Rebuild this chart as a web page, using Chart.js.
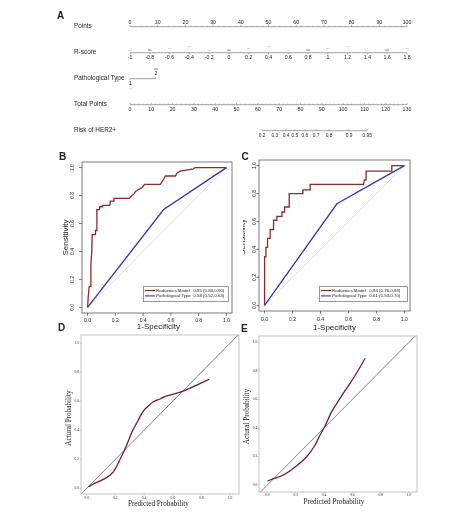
<!DOCTYPE html>
<html>
<head>
<meta charset="utf-8">
<script src="https://cdn.jsdelivr.net/npm/chart.js@4.4.1/dist/chart.umd.min.js"></script>
<style>
  html, body { margin: 0; padding: 0; background: #fff; }
  #wrap { position: relative; width: 474px; height: 515px; overflow: hidden; background: #fff; }
  canvas { position: absolute; }
</style>
</head>
<body>
<div id="wrap">
  <canvas id="panelA" width="474" height="145" style="left:0;top:0;width:474px;height:145px"></canvas>
  <canvas id="panelB" width="182" height="190" style="left:55px;top:145px;width:182px;height:190px"></canvas>
  <canvas id="panelC" width="195" height="190" style="left:239px;top:145px;width:195px;height:190px"></canvas>
  <canvas id="panelD" width="185" height="197" style="left:55px;top:318px;width:185px;height:197px"></canvas>
  <canvas id="panelE" width="194" height="197" style="left:240px;top:318px;width:194px;height:197px"></canvas>
</div>
<script>
// ---- A: nomogram ----
const nomoRows = ['Points', 'R-score', 'Pathological Type', 'Total Points', 'Risk of HER2+'];
const pointsTicks = [0, 10, 20, 30, 40, 50, 60, 70, 80, 90, 100];
const rScoreTicks = [-1, -0.8, -0.6, -0.4, -0.2, 0, 0.2, 0.4, 0.6, 0.8, 1, 1.2, 1.4, 1.6, 1.8];
const pathTypeLevels = ['1', '2'];
const pathTypePoints = [0, 9.2];
const totalPointsTicks = [0, 10, 20, 30, 40, 50, 60, 70, 80, 90, 100, 110, 120, 130];
const riskLabels = ['0.2', '0.3', '0.4', '0.5', '0.6', '0.7', '0.8', '0.9', '0.95'];
const riskTotalPoints = [62, 68, 73.2, 77.4, 82.1, 87.3, 93.4, 102.8, 111.3];

// ---- B: ROC, training set ----
const rocBRadiomicsFpr = [0, 0.005, 0.010, 0.012, 0.024, 0.024, 0.031, 0.033, 0.038, 0.055, 0.057, 0.064, 0.067, 0.083, 0.086, 0.105, 0.107, 0.160, 0.164, 0.186, 0.190, 0.300, 0.310, 0.320, 0.333, 0.345, 0.360, 0.380, 0.395, 0.410, 0.425, 0.524, 0.530, 0.550, 0.560, 0.633, 0.643, 0.667, 0.762, 0.774, 1];
const rocBRadiomicsTpr = [0, 0.08, 0.08, 0.15, 0.15, 0.30, 0.41, 0.52, 0.52, 0.52, 0.55, 0.55, 0.70, 0.70, 0.72, 0.72, 0.73, 0.73, 0.76, 0.76, 0.78, 0.78, 0.79, 0.80, 0.81, 0.83, 0.84, 0.85, 0.86, 0.88, 0.88, 0.88, 0.89, 0.92, 0.94, 0.94, 0.96, 0.975, 0.99, 1, 1];
const rocBPathFpr = [0, 0.548, 1];
const rocBPathTpr = [0, 0.70, 1];
const rocBAuc = ['0.85 (0.80,0.90)', '0.58 (0.52,0.63)'];

// ---- C: ROC, validation set ----
const rocCRadiomicsFpr = [0, 0, 0.0095, 0.0095, 0.021, 0.021, 0.040, 0.040, 0.064, 0.064, 0.088, 0.088, 0.124, 0.124, 0.143, 0.143, 0.176, 0.176, 0.274, 0.274, 0.326, 0.326, 0.707, 0.714, 0.726, 0.726, 0.910, 0.910, 1];
const rocCRadiomicsTpr = [0, 0.348, 0.348, 0.415, 0.415, 0.479, 0.479, 0.543, 0.543, 0.609, 0.609, 0.637, 0.637, 0.668, 0.668, 0.704, 0.704, 0.799, 0.799, 0.827, 0.827, 0.865, 0.865, 0.898, 0.898, 0.960, 0.960, 1, 1];
const rocCPathFpr = [0, 0.517, 1];
const rocCPathTpr = [0, 0.727, 1];
const rocCAuc = ['0.84 (0.76,0.93)', '0.61 (0.53,0.70)'];
const rocLegendNames = ['Radiomics Model', 'Pathological Type'];

// ---- D / E: calibration ----
const calDPred = [0.011, 0.046, 0.116, 0.186, 0.244, 0.279, 0.316, 0.360, 0.395, 0.430, 0.465, 0.512, 0.558, 0.663, 0.768, 0.856];
const calDObs  = [0.011, 0.030, 0.062, 0.114, 0.223, 0.299, 0.388, 0.471, 0.533, 0.568, 0.597, 0.616, 0.637, 0.666, 0.712, 0.752];
const calEPred = [0.0, 0.042, 0.113, 0.207, 0.278, 0.337, 0.372, 0.407, 0.454, 0.513, 0.560, 0.607, 0.654, 0.690];
const calEObs  = [0.028, 0.044, 0.070, 0.135, 0.198, 0.280, 0.350, 0.413, 0.514, 0.607, 0.678, 0.748, 0.825, 0.888];

const unitTicks = [0, 0.2, 0.4, 0.6, 0.8, 1];

const SANS = '"Liberation Sans", Arial, sans-serif';
const SERIF = '"Liberation Serif", "Times New Roman", serif';
const pts = (xs, ys) => xs.map((x, i) => ({ x, y: ys[i] }));

// nomogram: rows are lines on a category y axis, ticks drawn with each row's own x scale
const nomoLine = (xs, row, axis) => ({
  data: xs.map(x => ({ x, y: nomoRows[row] })),
  xAxisID: axis, showLine: true, borderColor: '#7a7a7a', borderWidth: 0.7, pointRadius: 0
});

const nomogramPlugin = {
  id: 'nomogram',
  afterDatasetsDraw(chart) {
    const { ctx, scales } = chart;
    const sP = scales.x, sR = scales.xR, sT = scales.xTot;
    const rowY = i => scales.y.getPixelForValue(i);
    const vtick = (px, y0, len) => { ctx.moveTo(px, y0); ctx.lineTo(px, y0 + len); };
    const dash = (px, y0, dark) => {
      ctx.strokeStyle = dark ? '#555' : '#c4c4c4';
      ctx.lineWidth = dark ? 0.8 : 0.6;
      ctx.beginPath(); ctx.moveTo(px - 1.8, y0); ctx.lineTo(px + 1.8, y0); ctx.stroke();
    };
    ctx.save();
    ctx.fillStyle = '#222';
    ctx.textBaseline = 'middle';
    ctx.textAlign = 'left';
    ctx.font = 'bold 10px ' + SANS;
    ctx.fillText('A', 57, 16);
    ctx.font = '6.4px ' + SANS;
    nomoRows.forEach((n, i) => ctx.fillText(n, 74, rowY(i)));

    ctx.textAlign = 'center';
    ctx.strokeStyle = '#7a7a7a';
    ctx.lineWidth = 0.6;

    // Points
    let y = rowY(0);
    ctx.beginPath();
    for (let v = 0; v <= 100; v += 2) vtick(sP.getPixelForValue(v), y, v % 10 ? -1 : -2);
    ctx.stroke();
    ctx.font = '5.2px ' + SANS;
    pointsTicks.forEach(v => ctx.fillText(String(v), sP.getPixelForValue(v), y - 4.3));

    // R-score
    y = rowY(1);
    ctx.beginPath();
    rScoreTicks.forEach(v => vtick(sR.getPixelForValue(v), y, 1.5));
    ctx.stroke();
    rScoreTicks.forEach(v => ctx.fillText(String(v), sR.getPixelForValue(v), y + 4.6));
    const lift = [2.3, 2.6, 4.3, 6];
    rScoreTicks.forEach((v, i) => dash(sR.getPixelForValue(v), y - lift[i % 4], i % 4 === 1));

    // Pathological Type
    y = rowY(2);
    ctx.strokeStyle = '#7a7a7a'; ctx.lineWidth = 0.6;
    ctx.beginPath();
    vtick(sP.getPixelForValue(pathTypePoints[0]), y, 1.5);
    vtick(sP.getPixelForValue(pathTypePoints[1]), y, -1.5);
    ctx.stroke();
    ctx.fillText(pathTypeLevels[0], sP.getPixelForValue(pathTypePoints[0]) + 0.5, y + 4.6);
    ctx.fillText(pathTypeLevels[1], sP.getPixelForValue(pathTypePoints[1]) + 0.5, y - 5.6);
    dash(sP.getPixelForValue(pathTypePoints[0]) + 0.5, y + 10, false);
    dash(sP.getPixelForValue(pathTypePoints[1]) + 0.5, y - 9.6, true);

    // Total Points
    y = rowY(3);
    ctx.strokeStyle = '#7a7a7a'; ctx.lineWidth = 0.6;
    ctx.beginPath();
    for (let v = 0; v <= 130; v += 2) vtick(sT.getPixelForValue(v), y, v % 10 ? -1 : -1.8);
    ctx.stroke();
    ctx.font = '5.3px ' + SANS;
    totalPointsTicks.forEach(v => ctx.fillText(String(v), sT.getPixelForValue(v), y + 4.8));

    // Risk
    y = rowY(4);
    ctx.beginPath();
    riskTotalPoints.forEach(v => vtick(sT.getPixelForValue(v), y, -1.5));
    ctx.stroke();
    ctx.font = '4.8px ' + SANS;
    riskTotalPoints.forEach((v, i) => ctx.fillText(riskLabels[i], sT.getPixelForValue(v), y + 5));
    ctx.restore();
  }
};

new Chart(document.getElementById('panelA'), {
  type: 'scatter',
  data: {
    datasets: [
      nomoLine([pointsTicks[0], pointsTicks[pointsTicks.length - 1]], 0, 'x'),
      nomoLine([rScoreTicks[0], rScoreTicks[rScoreTicks.length - 1]], 1, 'xR'),
      nomoLine(pathTypePoints, 2, 'x'),
      nomoLine([totalPointsTicks[0], totalPointsTicks[totalPointsTicks.length - 1]], 3, 'xTot'),
      nomoLine([riskTotalPoints[0], riskTotalPoints[riskTotalPoints.length - 1]], 4, 'xTot')
    ]
  },
  options: {
    responsive: false, animation: false, events: [],
    layout: { padding: { left: 130, right: 67, top: 13.7, bottom: 1.3 } },
    scales: {
      x: { type: 'linear', display: false, min: 0, max: 100 },
      xR: { type: 'linear', axis: 'x', display: false, min: -1, max: 1.8 },
      xTot: { type: 'linear', axis: 'x', display: false, min: 0, max: 130 },
      y: { type: 'category', labels: nomoRows, offset: true, display: false }
    },
    plugins: { legend: { display: false }, tooltip: { enabled: false } }
  },
  plugins: [nomogramPlugin]
});

// R-like box, ticks, labels, titles (and optional legend) for panels B-E
function rStyleAxes(c) {
  return {
    id: 'rStyleAxes',
    afterDraw(chart) {
      const { ctx, chartArea: a } = chart;
      const sx = chart.scales.x, sy = chart.scales.y;
      ctx.save();
      ctx.strokeStyle = c.frame; ctx.lineWidth = c.frameWidth;
      ctx.strokeRect(a.left, a.top, a.right - a.left, a.bottom - a.top);
      ctx.beginPath();
      unitTicks.forEach(v => {
        const px = sx.getPixelForValue(v), py = sy.getPixelForValue(v);
        ctx.moveTo(px, a.bottom); ctx.lineTo(px, a.bottom + c.tick);
        ctx.moveTo(a.left, py); ctx.lineTo(a.left - c.tick, py);
      });
      ctx.stroke();

      ctx.fillStyle = '#222';
      ctx.textAlign = 'center'; ctx.textBaseline = 'middle';
      ctx.font = c.tickFont;
      unitTicks.forEach(v => {
        const lab = v.toFixed(1);
        ctx.fillText(lab, sx.getPixelForValue(v), a.bottom + c.xLabGap);
        ctx.save();
        ctx.translate(a.left - c.yLabGap, sy.getPixelForValue(v));
        if (c.rotY) ctx.rotate(-Math.PI / 2);
        ctx.fillText(lab, 0, 0);
        ctx.restore();
      });

      ctx.font = c.titleFont;
      ctx.fillText(c.xTitle, sx.getPixelForValue(c.titleAt[0]), a.bottom + c.xTitleGap);
      ctx.save();
      if (c.clipLeft != null) { ctx.beginPath(); ctx.rect(c.clipLeft, 0, chart.width, chart.height); ctx.clip(); }
      ctx.translate(a.left - c.yTitleGap, sy.getPixelForValue(c.titleAt[1]));
      ctx.rotate(-Math.PI / 2);
      ctx.fillText(c.yTitle, 0, 0);
      ctx.restore();

      ctx.textAlign = 'left';
      ctx.font = 'bold 10px ' + SANS;
      ctx.fillText(c.letter, c.letterPos[0], c.letterPos[1]);

      if (c.legend) {
        const L = c.legend;
        const x0 = a.right - L.right - L.width, y0 = a.bottom - L.bottom - L.height;
        ctx.strokeStyle = '#555'; ctx.lineWidth = 0.6;
        ctx.strokeRect(x0, y0, L.width, L.height);
        ctx.font = '4.4px ' + SANS;
        rocLegendNames.forEach((n, i) => {
          const yy = y0 + 3.8 + i * 5.4;
          ctx.strokeStyle = L.colors[i]; ctx.lineWidth = 1.1;
          ctx.beginPath(); ctx.moveTo(x0 + 1.7, yy); ctx.lineTo(x0 + 11.7, yy); ctx.stroke();
          ctx.fillText(n, x0 + 12.8, yy);
          ctx.fillText(L.auc[i], x0 + 50, yy);
        });
      }
      ctx.restore();
    }
  };
}

function makePanel(id, pad, range, datasets, axes) {
  return new Chart(document.getElementById(id), {
    type: 'scatter',
    data: { datasets },
    options: {
      responsive: false, animation: false, events: [],
      layout: { padding: pad },
      scales: {
        x: { type: 'linear', display: false, min: range[0], max: range[1] },
        y: { type: 'linear', display: false, min: range[2], max: range[3] }
      },
      plugins: { legend: { display: false }, tooltip: { enabled: false } },
      elements: { point: { radius: 0 } }
    },
    plugins: [rStyleAxes(axes)]
  });
}

const RED = '#8c2a2a', BLUE = '#3434b0', MAROON = '#6e1d34';
const rocLine = (data, color, order) => ({ data, showLine: true, borderColor: color, borderWidth: 1.3, order, tension: 0 });
const diag01 = [{ x: 0, y: 0 }, { x: 1, y: 1 }];

makePanel('panelB', { left: 27, right: 5, top: 17, bottom: 22 }, [-0.04, 1.04, -0.04, 1.04], [
  { data: diag01, showLine: true, borderColor: '#d2d2d2', borderWidth: 0.8, order: 3 },
  rocLine(pts(rocBPathFpr, rocBPathTpr), BLUE, 2),
  rocLine(pts(rocBRadiomicsFpr, rocBRadiomicsTpr), RED, 1)
], {
  frame: '#444', frameWidth: 0.7, tick: 3, tickFont: '5px ' + SANS, rotY: true,
  xLabGap: 7.3, yLabGap: 9.5, titleFont: '8px ' + SANS, xTitleGap: 13.3, yTitleGap: 16.3,
  xTitle: '1-Specificity', yTitle: 'Sensitivity', titleAt: [0.51, 0.5],
  letter: 'B', letterPos: [4, 12],
  legend: { right: 3.7, bottom: 11.3, width: 85, height: 15, colors: [RED, BLUE], auc: rocBAuc }
});

makePanel('panelC', { left: 20, right: 24, top: 15, bottom: 24 }, [-0.04, 1.04, -0.04, 1.04], [
  { data: diag01, showLine: true, borderColor: '#d2d2d2', borderWidth: 0.8, order: 3 },
  rocLine(pts(rocCPathFpr, rocCPathTpr), BLUE, 2),
  rocLine(pts(rocCRadiomicsFpr, rocCRadiomicsTpr), RED, 1)
], {
  frame: '#444', frameWidth: 0.7, tick: 2.5, tickFont: '5px ' + SANS, rotY: true,
  xLabGap: 8.7, yLabGap: 4.8, titleFont: '8px ' + SANS, xTitleGap: 16.8, yTitleGap: 16.6,
  xTitle: '1-Specificity', yTitle: 'Sensitivity', titleAt: [0.5, 0.49], clipLeft: 4,
  letter: 'C', letterPos: [2.5, 12],
  legend: { right: 2.7, bottom: 9.3, width: 88, height: 15, colors: [RED, BLUE], auc: rocCAuc }
});

const calCurve = (data) => ({ data, showLine: true, borderColor: MAROON, borderWidth: 1.3, cubicInterpolationMode: 'monotone', order: 1 });
const identity = (lo, hi) => ({ data: [{ x: lo, y: lo }, { x: hi, y: hi }], showLine: true, borderColor: '#4a4a4a', borderWidth: 0.7, order: 2 });

makePanel('panelD', { left: 26, right: 1, top: 17, bottom: 21 }, [-0.04, 1.063, -0.039, 1.057], [
  identity(-0.05, 1.1),
  calCurve(pts(calDPred, calDObs))
], {
  frame: '#b4b4b4', frameWidth: 0.8, tick: 1.3, tickFont: '3.6px ' + SERIF, rotY: false,
  xLabGap: 3.7, yLabGap: 4.3, titleFont: '7.2px ' + SERIF, xTitleGap: 10.3, yTitleGap: 11.7,
  xTitle: 'Predicted Probability', yTitle: 'Actural Probability', titleAt: [0.5, 0.485],
  letter: 'D', letterPos: [3, 10.5]
});

makePanel('panelE', { left: 19, right: 17, top: 18, bottom: 23 }, [-0.059, 1.056, -0.049, 1.044], [
  identity(-0.07, 1.1),
  calCurve(pts(calEPred, calEObs))
], {
  frame: '#b4b4b4', frameWidth: 0.8, tick: 1.3, tickFont: '3.6px ' + SERIF, rotY: false,
  xLabGap: 2.6, yLabGap: 4, titleFont: '7.2px ' + SERIF, xTitleGap: 10, yTitleGap: 12.3,
  xTitle: 'Predicted Probability', yTitle: 'Actural Probability', titleAt: [0.47, 0.48],
  letter: 'E', letterPos: [1, 11.5]
});
</script>
</body>
</html>
